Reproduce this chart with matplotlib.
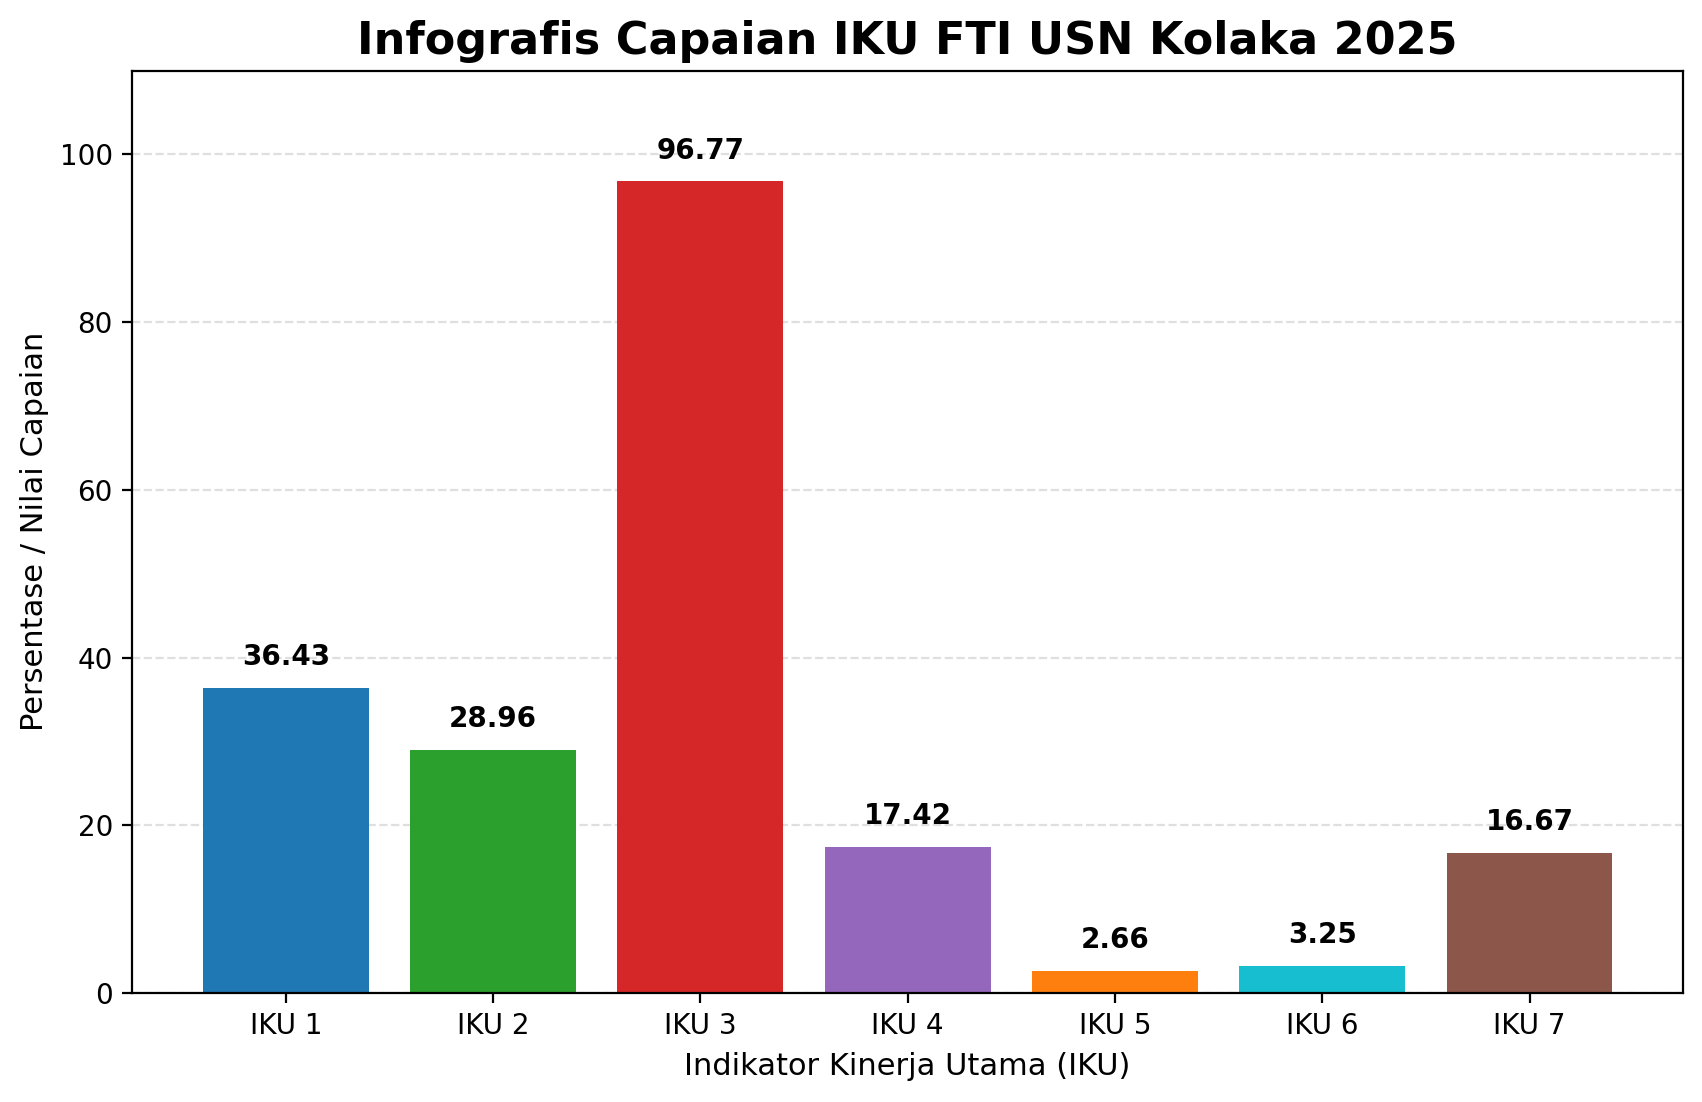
import matplotlib
matplotlib.use("Agg")
import matplotlib.pyplot as plt

# === DATA ===
labels = ["IKU 1", "IKU 2", "IKU 3", "IKU 4", "IKU 5", "IKU 6", "IKU 7"]
values = [36.43, 28.96, 96.77, 17.42, 2.66, 3.25, 16.67]
colors = ["#1f77b4", "#2ca02c", "#d62728", "#9467bd", "#ff7f0e", "#17becf", "#8c564b"]

fig, ax = plt.subplots(figsize=(1702 / 200, 1102 / 200), dpi=200)
fig.subplots_adjust(left=0.0778, right=0.9888, top=0.936, bottom=0.0989)

bars = ax.bar(labels, values, color=colors)

for b, v in zip(bars, values):
    ax.text(b.get_x() + b.get_width() / 2, v + 2, f"{v:.2f}",
            ha="center", va="bottom", fontsize=10, fontweight="bold")

ax.set_ylim(0, 110)
ax.set_title("Infografis Capaian IKU FTI USN Kolaka 2025", fontsize=16, fontweight="bold")
ax.set_xlabel("Indikator Kinerja Utama (IKU)", fontsize=11)
ax.set_ylabel("Persentase / Nilai Capaian", fontsize=11)
ax.tick_params(labelsize=10)
ax.grid(axis="y", linestyle="--", alpha=0.4)
ax.set_axisbelow(True)

fig.savefig("out.png", dpi=200)
